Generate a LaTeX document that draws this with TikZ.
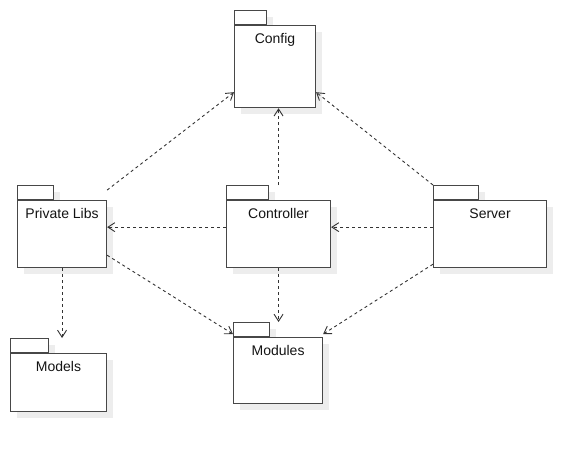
\documentclass[tikz,border=0pt]{standalone}
\usepackage{fontspec}
\setmainfont{Liberation Sans}
\usetikzlibrary{arrows.meta,shadows}

\tikzset{
  pkgshadow/.style={drop shadow={shadow xshift=6pt,shadow yshift=-6pt,fill=black!7,opacity=1}},
  pkgtab/.style={draw=black!72,line width=1.1pt,fill=white,anchor=north west,inner sep=0pt,
                 minimum height=14pt,pkgshadow},
  pkg/.style={draw=black!72,line width=1.1pt,fill=white,anchor=north west,inner sep=0pt,pkgshadow},
  pkgname/.style={anchor=base,text=black!92,font=\fontsize{14}{16}\selectfont},
  dep/.style={draw=black!80,line width=0.9pt,dash pattern=on 3pt off 3pt,
              -{Straight Barb[length=7pt,width=9pt]}},
}

\begin{document}
\begin{tikzpicture}[x=1pt,y=-1pt]
   \useasboundingbox (0,0) rectangle (586,450);
   % packages
   \node (configTab)     [pkgtab,minimum width=32pt] at (234,10) {};
   \node (config)        [pkg,minimum width=81pt,minimum height=82pt] at (configTab.south west) {};
   \node (privLibsTab)   [pkgtab,minimum width=36pt] at (17,185) {};
   \node (privLibs)      [pkg,minimum width=89pt,minimum height=67pt] at (privLibsTab.south west) {};
   \node (controllerTab) [pkgtab,minimum width=42pt] at (226,185) {};
   \node (controller)    [pkg,minimum width=104pt,minimum height=67pt] at (controllerTab.south west) {};
   \node (serverTab)     [pkgtab,minimum width=45pt] at (433,185) {};
   \node (server)        [pkg,minimum width=113pt,minimum height=67pt] at (serverTab.south west) {};
   \node (modelsTab)     [pkgtab,minimum width=38pt] at (10,338) {};
   \node (models)        [pkg,minimum width=96pt,minimum height=58pt] at (modelsTab.south west) {};
   \node (modulesTab)    [pkgtab,minimum width=36pt] at (233,322) {};
   \node (modules)       [pkg,minimum width=89pt,minimum height=66pt] at (modulesTab.south west) {};
   % names
   \node (configName)     [pkgname] at ([yshift=-18.5pt]config.north)     {Config};
   \node (privLibsName)   [pkgname] at ([yshift=-18.5pt]privLibs.north)   {Private Libs};
   \node (controllerName) [pkgname] at ([yshift=-18.5pt]controller.north) {Controller};
   \node (serverName)     [pkgname] at ([yshift=-18.5pt]server.north)     {Server};
   \node (modelsName)     [pkgname] at ([yshift=-18.5pt]models.north)     {Models};
   \node (modulesName)    [pkgname] at ([yshift=-18.5pt]modules.north)    {Modules};
   % dependencies
   \draw[dep] ([yshift=10pt]privLibs.north east)        to ([yshift=16pt]config.south west);
   \draw[dep] (controller.north |- controllerTab.north) to (controller.north |- config.south);
   \draw[dep] (serverTab.north west)                    to ([yshift=16pt]config.south east);
   \draw[dep] ([yshift=7pt]controller.west)             to ([yshift=7pt]privLibs.east);
   \draw[dep] ([yshift=7pt]server.west)                 to ([yshift=7pt]controller.east);
   \draw[dep] (privLibs.south)                          to (privLibs.south |- modelsTab.north);
   \draw[dep] (controller.south)                        to (controller.south |- modulesTab.north);
   \draw[dep] ([yshift=13pt]privLibs.south east)        to ([yshift=3pt]modules.north west);
   \draw[dep] ([yshift=4pt]server.south west)           to ([yshift=3pt]modules.north east);
\end{tikzpicture}
\end{document}
